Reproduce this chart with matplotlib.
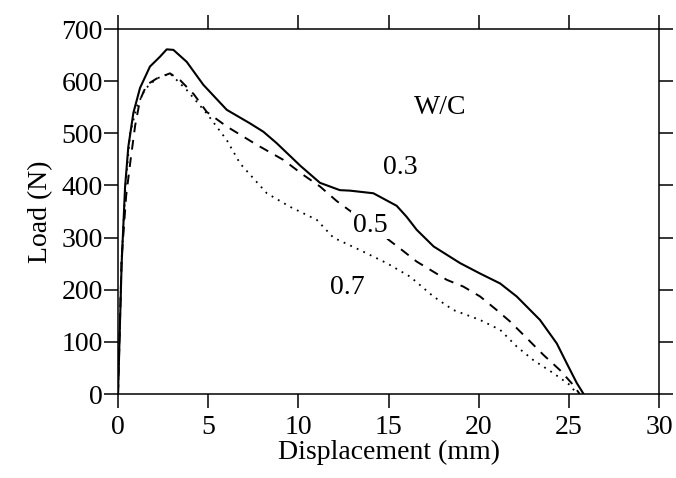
import matplotlib.pyplot as plt

plt.rcParams["font.family"] = ["Liberation Serif", "DejaVu Serif"]

# W/C = 0.3 (solid)
x_03 = [0.0, 0.2, 0.39, 0.57, 0.85, 1.22, 1.77, 2.33, 2.7, 3.07, 3.81, 4.73, 6.03,
        7.32, 8.06, 8.8, 10.1, 11.2, 12.3, 12.87, 14.16, 15.45, 16.0, 16.56,
        17.5, 18.97, 20.08, 21.19, 22.11, 23.4, 24.33, 24.88, 25.44, 25.8]
y_03 = [0, 250, 397, 474, 539, 587, 628, 647, 661, 660, 637, 593, 545,
        519, 503, 481, 438, 405, 391, 390, 385, 361, 340, 315,
        283, 251, 231, 212, 187, 142, 97, 59, 21, 1]

# W/C = 0.5 (dashed)
x_05 = [0.0, 0.2, 0.45, 0.7, 0.95, 1.22, 1.59, 2.14, 2.88, 3.44, 4.2, 4.92, 6.03,
        7.69, 9.17, 10.28, 11.2, 12.13, 13.9, 15.64, 16.56, 18.23, 19.15,
        20.08, 21.0, 21.74, 22.67, 23.59, 24.5, 25.25, 25.6]
y_05 = [0, 260, 380, 450, 515, 564, 593, 605, 615, 602, 575, 541, 513,
        478, 449, 420, 398, 370, 325, 279, 254, 219, 206,
        187, 161, 139, 107, 75, 46, 17, 0]

# W/C = 0.7 (dotted)
x_07 = [0.0, 0.2, 0.42, 0.67, 1.04, 1.5, 2.14, 2.88, 3.81, 4.92, 6.03, 6.77,
        8.25, 9.54, 11.02, 11.94, 13.42, 14.9, 16.2, 17.49, 18.6, 20.08,
        21.19, 22.11, 23.03, 24.14, 25.07, 25.4]
y_07 = [0, 260, 400, 500, 551, 585, 605, 615, 583, 538, 487, 442,
        385, 359, 334, 300, 276, 251, 225, 187, 161, 142,
        123, 91, 65, 40, 17, 2]

x_ticks = [0, 5, 10, 15, 20, 25, 30]
y_ticks = [0, 100, 200, 300, 400, 500, 600, 700]

fig = plt.figure(figsize=(6.76, 4.78), dpi=100)
ax = fig.add_axes([0.1746, 0.1757, 0.8003, 0.7636])

ax.plot(x_03, y_03, color="black", lw=1.5, ls="-")
ax.plot(x_05, y_05, color="black", lw=1.4, ls=(0, (5, 4)))
ax.plot(x_07, y_07, color="black", lw=1.3, ls=(0, (1, 3)))

# curve labels sit on a white patch, like in the original figure
label_box = dict(facecolor="white", edgecolor="none", pad=1)
ax.text(17.86, 550, "W/C", fontsize=20, ha="center", va="center")
ax.text(15.64, 435, "0.3", fontsize=20, ha="center", va="center")
ax.text(13.97, 324, "0.5", fontsize=20, ha="center", va="center",
        bbox=label_box, zorder=5)
ax.text(12.7, 205, "0.7", fontsize=20, ha="center", va="center")

ax.set_xlim(0, 30)
ax.set_ylim(0, 700)
ax.set_xticks(x_ticks)
ax.set_yticks(y_ticks)
ax.tick_params(direction="out", length=10, width=1.1, labelsize=20,
               top=True, right=True, labeltop=False, labelright=False)
ax.tick_params(axis="y", pad=1)
ax.tick_params(axis="x", pad=5)
for side in ax.spines.values():
    side.set_linewidth(1.1)

ax.set_xlabel("Displacement (mm)", fontsize=20, labelpad=0)
ax.set_ylabel("Load (N)", fontsize=20, labelpad=6)

fig.savefig("out.png", dpi=100)
